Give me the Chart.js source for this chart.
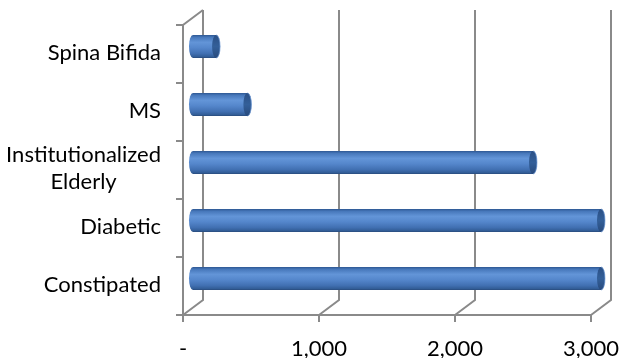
<!DOCTYPE html>
<html>
<head>
<meta charset="utf-8">
<title>Patient groups</title>
<script src="https://cdn.jsdelivr.net/npm/chart.js@4"></script>
<style>
  html, body { margin: 0; padding: 0; background: #ffffff; }
  canvas { display: block; }
</style>
</head>
<body>
<canvas id="chart" width="621" height="358"></canvas>
<script>
// Groups shown on the category axis, top to bottom
const categories = ['Spina Bifida', 'MS', ['Institutionalized', 'Elderly'], 'Diabetic', 'Constipated'];
// Count for each group
const patientCounts = [170, 400, 2500, 3000, 3000];
// Value axis ticks
const valueTicks = [0, 1000, 2000, 3000];

const FONT_FAMILY = 'Lato, "DejaVu Sans", sans-serif';
const FONT_SIZE = 22;
const LINE_COLOR = '#8a8a8a';
// Half of the 3D depth: the bars sit in the middle plane,
// the front frame is shifted left/down, the back wall right/up.
const DEPTH_X = 10;
const DEPTH_Y = 7.5;
const CAP_RX = 4;

const frame3d = {
  id: 'frame3d',
  beforeDatasetsDraw(chart) {
    const xs = chart.scales.x, ys = chart.scales.y, a = chart.chartArea;
    const ctx = chart.ctx;
    const front = v => xs.getPixelForValue(v) - DEPTH_X;
    const back = v => xs.getPixelForValue(v) + DEPTH_X;
    const fTop = a.top + DEPTH_Y, fBot = a.bottom + DEPTH_Y;
    const bTop = a.top - DEPTH_Y, bBot = a.bottom - DEPTH_Y;
    const vMin = xs.min, vMax = xs.max;
    ctx.save();
    ctx.strokeStyle = LINE_COLOR;
    ctx.lineWidth = 2;
    ctx.lineCap = 'butt';
    ctx.beginPath();
    // back wall gridlines and floor diagonals
    xs.ticks.forEach(t => {
      ctx.moveTo(back(t.value), bTop);
      ctx.lineTo(back(t.value), bBot);
      ctx.lineTo(front(t.value), fBot);
      // tick marks below the front edge
      ctx.moveTo(front(t.value), fBot);
      ctx.lineTo(front(t.value), fBot + 7);
    });
    // front floor edge
    ctx.moveTo(front(vMin), fBot);
    ctx.lineTo(front(vMax), fBot);
    // left wall front edge and top diagonal
    ctx.moveTo(front(vMin), fBot);
    ctx.lineTo(front(vMin), fTop);
    ctx.lineTo(back(vMin), bTop);
    // category boundary ticks
    for (let i = 0; i <= categories.length; i++) {
      const y = ys.getPixelForValue(i - 0.5) + DEPTH_Y;
      ctx.moveTo(front(vMin) - 7, y);
      ctx.lineTo(front(vMin), y);
    }
    ctx.stroke();
    ctx.restore();
  }
};

const cylinders = {
  id: 'cylinders',
  afterDatasetsDraw(chart) {
    const ctx = chart.ctx;
    const meta = chart.getDatasetMeta(0);
    meta.data.forEach(el => {
      const p = el.getProps(['x', 'y', 'base', 'height'], true);
      const ry = p.height / 2;
      const top = p.y - ry, bot = p.y + ry;
      const g = ctx.createLinearGradient(0, top, 0, bot);
      g.addColorStop(0.00, '#2c5590');
      g.addColorStop(0.10, '#4677ba');
      g.addColorStop(0.32, '#6395d8');
      g.addColorStop(0.55, '#5587cc');
      g.addColorStop(0.80, '#4170b2');
      g.addColorStop(0.94, '#325d97');
      g.addColorStop(1.00, '#274878');
      ctx.save();
      // body
      ctx.beginPath();
      ctx.moveTo(p.base, top);
      ctx.lineTo(p.x, top);
      ctx.ellipse(p.x, p.y, CAP_RX, ry, 0, -Math.PI / 2, Math.PI / 2, false);
      ctx.lineTo(p.base, bot);
      ctx.ellipse(p.base, p.y, CAP_RX, ry, 0, Math.PI / 2, Math.PI * 1.5, false);
      ctx.closePath();
      ctx.fillStyle = g;
      ctx.fill();
      // end cap
      const cg = ctx.createLinearGradient(0, top, 0, bot);
      cg.addColorStop(0, '#2a4f85');
      cg.addColorStop(0.5, '#335f99');
      cg.addColorStop(1, '#284a7c');
      ctx.beginPath();
      ctx.ellipse(p.x, p.y, CAP_RX, ry, 0, 0, Math.PI * 2);
      ctx.fillStyle = cg;
      ctx.fill();
      ctx.beginPath();
      ctx.ellipse(p.x, p.y, CAP_RX, ry, 0, -Math.PI / 2, Math.PI / 2, false);
      ctx.strokeStyle = 'rgba(120,160,215,0.7)';
      ctx.lineWidth = 1;
      ctx.stroke();
      ctx.restore();
    });
  }
};

// Category labels: block right-aligned to the axis, lines centred within the block
const categoryLabels = {
  id: 'categoryLabels',
  afterDraw(chart) {
    const xs = chart.scales.x, ys = chart.scales.y;
    const ctx = chart.ctx;
    const right = xs.getPixelForValue(xs.min) - DEPTH_X - 22;
    const lineH = FONT_SIZE * 1.2;
    ctx.save();
    ctx.font = FONT_SIZE + 'px ' + FONT_FAMILY;
    ctx.fillStyle = '#000000';
    ctx.textAlign = 'center';
    ctx.textBaseline = 'middle';
    categories.forEach((lab, i) => {
      const lines = Array.isArray(lab) ? lab : [lab];
      const w = Math.max(...lines.map(l => ctx.measureText(l).width));
      const cx = right - w / 2;
      const yc = ys.getPixelForTick(i) + 6;
      lines.forEach((l, j) => {
        ctx.fillText(l, cx, yc + (j - (lines.length - 1) / 2) * lineH);
      });
    });
    ctx.restore();
  }
};

new Chart(document.getElementById('chart'), {
  type: 'bar',
  data: {
    labels: categories,
    datasets: [{
      data: patientCounts,
      backgroundColor: 'rgba(0,0,0,0)',
      borderWidth: 0,
      barPercentage: 0.4,
      categoryPercentage: 1
    }]
  },
  options: {
    indexAxis: 'y',
    responsive: false,
    animation: false,
    layout: { padding: { top: 17.5, right: 20, left: 0, bottom: 0 } },
    plugins: { legend: { display: false }, tooltip: { enabled: false } },
    scales: {
      x: {
        min: valueTicks[0],
        max: valueTicks[valueTicks.length - 1],
        afterBuildTicks: s => { s.ticks = valueTicks.map(v => ({ value: v })); },
        afterFit: s => { s.height = 50.5; s.paddingLeft = 0; s.paddingRight = 0; },
        grid: { display: false, drawTicks: false },
        border: { display: false },
        ticks: {
          padding: 28,
          labelOffset: -DEPTH_X,
          color: '#000000',
          font: { family: FONT_FAMILY, size: FONT_SIZE },
          callback: v => v === 0 ? '-' : v.toLocaleString('en-US')
        }
      },
      y: {
        afterFit: s => { s.width = 193; s.paddingTop = 0; s.paddingBottom = 0; },
        grid: { display: false, drawTicks: false },
        border: { display: false },
        ticks: { display: false }
      }
    }
  },
  plugins: [frame3d, cylinders, categoryLabels]
});
</script>
</body>
</html>
